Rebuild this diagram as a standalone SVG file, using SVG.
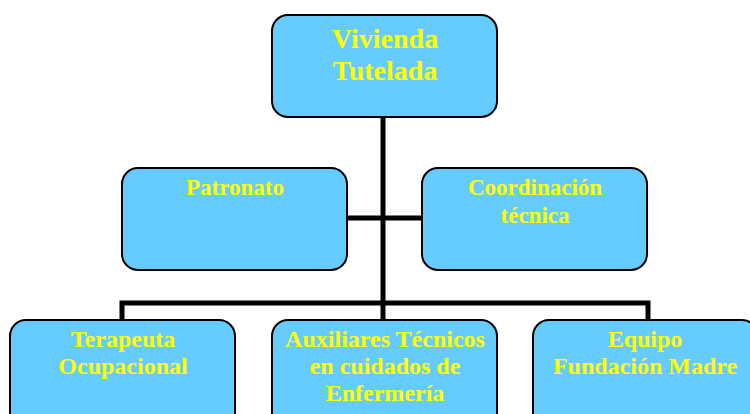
<svg xmlns="http://www.w3.org/2000/svg" width="750" height="414" viewBox="0 0 750 414">
<style>
.box{fill:#66CCFF;stroke:#000;stroke-width:2}
.t{fill:#FFFF00;font-family:"Liberation Serif",serif;text-anchor:middle;font-weight:bold}
.conn{stroke:#000;stroke-width:5;fill:none}
</style>
<rect width="750" height="414" fill="#fff"/>
<g id="connectors">
<path class="conn" d="M383 117 V303"/>
<path class="conn" d="M347 218 H422"/>
<path class="conn" d="M122 320 V303 H648 V320"/>
<path class="conn" d="M383 303 V320"/>
</g>
<g id="vivienda">
<rect class="box" x="272" y="15" width="225" height="102" rx="16"/>
<text class="t" x="385" y="48" font-size="28">Vivienda</text>
<text class="t" x="385" y="80" font-size="28">Tutelada</text>
</g>
<g id="patronato">
<rect class="box" x="122" y="168" width="225" height="102" rx="16"/>
<text class="t" x="235" y="195" font-size="23">Patronato</text>
</g>
<g id="coordinacion">
<rect class="box" x="422" y="168" width="225" height="102" rx="16"/>
<text class="t" x="535" y="195" font-size="23">Coordinación</text>
<text class="t" x="535" y="223" font-size="23">técnica</text>
</g>
<g id="terapeuta">
<rect class="box" x="10" y="320" width="225" height="110" rx="16"/>
<text class="t" x="123" y="347" font-size="24">Terapeuta</text>
<text class="t" x="123" y="374" font-size="24">Ocupacional</text>
</g>
<g id="auxiliares">
<rect class="box" x="272" y="320" width="225" height="110" rx="16"/>
<text class="t" x="385" y="347" font-size="24">Auxiliares Técnicos</text>
<text class="t" x="385" y="374" font-size="24">en cuidados de</text>
<text class="t" x="385" y="401" font-size="24">Enfermería</text>
</g>
<g id="equipo">
<rect class="box" x="533" y="320" width="225" height="110" rx="16"/>
<text class="t" x="645" y="347" font-size="24">Equipo</text>
<text class="t" x="645" y="374" font-size="24">Fundación Madre</text>
</g>
</svg>
